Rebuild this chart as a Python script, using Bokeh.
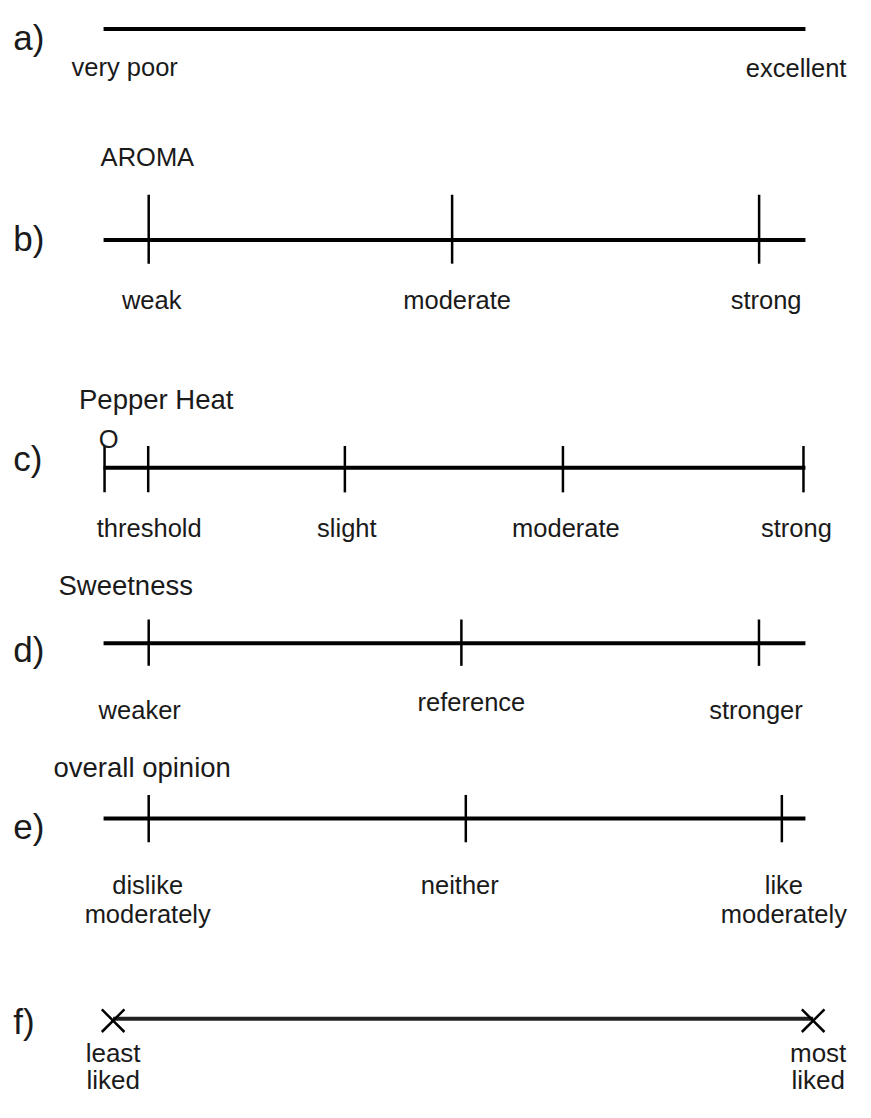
from bokeh.plotting import figure
from bokeh.models import Range1d
from bokeh.core.properties import value
from bokeh.embed import file_html
from bokeh.resources import INLINE

# ---- data: anchor positions on each line scale (0 = left end, 100 = right end)
letters = ["a)", "b)", "c)", "d)", "e)", "f)"]
titles = ["", "AROMA", "Pepper Heat", "Sweetness", "overall opinion", ""]

a_pos = [0, 100]
a_labels = ["very poor", "excellent"]

b_pos = [6.43, 49.66, 93.40]
b_labels = ["weak", "moderate", "strong"]

c_pos = [0.14, 6.36, 34.38, 65.45, 99.72]
c_labels = ["", "threshold", "slight", "moderate", "strong"]
c_origin = "O"

d_pos = [6.43, 50.98, 93.38]
d_labels = ["weaker", "reference", "stronger"]

e_pos = [6.43, 51.61, 96.64]
e_labels = ["dislike\nmoderately", "neither", "like\nmoderately"]

f_pos = [1.36, 101.1]
f_labels = ["least\nliked", "most\nliked"]

# ---- layout (y in reference pixels, top down)
FONT = value("Liberation Sans")
LAB = "25.5px"
TIT = "27.5px"
LET = "35px"
row_y = [29, 243, 474, 652, 830, 1033]
letter_base = [38, 241, 465, 658, 838, 1036]
title_x = [0, -0.42, -3.5, -6.43, -7.13, 0]
title_y = [0, 159, 405, 594, 778, 0]
title_size = ["", "25.5px", TIT, TIT, TIT, ""]

p = figure(width=855, height=1102, output_backend="svg", toolbar_location=None,
           x_range=Range1d(-14.685, 107.133), y_range=Range1d(1118, 0),
           min_border=0, x_axis_location=None, y_axis_location=None)
p.grid.visible = False
p.outline_line_color = None
p.background_fill_color = "white"

def txt(x, y, t, size=LAB, align="left", xo=0):
    p.text(x=[x], y=[y], text=[t], text_font=FONT, text_font_size=size,
           text_align=align, text_baseline="alphabetic", text_color="#1a1a1a", x_offset=xo)

# letters and titles
for i, L in enumerate(letters):
    txt(-12.87, letter_base[i], L, size=LET)
    if titles[i]:
        txt(title_x[i], title_y[i], titles[i], size=title_size[i])

# main lines
for i in range(5):
    p.segment(x0=[0], y0=[row_y[i]], x1=[100], y1=[row_y[i]], line_width=4, line_color="black")
p.segment(x0=[f_pos[0]], y0=[row_y[5]], x1=[f_pos[1]], y1=[row_y[5]], line_width=4, line_color="#222222")

# a) end labels
txt(a_pos[0], 67, a_labels[0], xo=-32)
txt(a_pos[1], 68, a_labels[1], align="right", xo=41)

def ticks(pos, top, bottom):
    p.segment(x0=pos, y0=[top] * len(pos), x1=pos, y1=[bottom] * len(pos),
              line_width=2.5, line_color="black")

# b)
ticks(b_pos, 197, 267)
for x, t, xo in zip(b_pos, b_labels, [3, 5, 7]):
    txt(x, 304, t, align="center", xo=xo)

# c)
ticks(c_pos, 452, 499)
txt(c_pos[0], 445, c_origin, align="center", xo=4)
for x, t, xo in zip(c_pos, c_labels, [0, 1, 2, 3, -7]):
    if t:
        txt(x, 535, t, align="center", xo=xo)

# d)
ticks(d_pos, 628, 675)
for x, t, yb, xo in zip(d_pos, d_labels, [720, 712, 720], [-9, 10, -3]):
    txt(x, yb, t, align="center", xo=xo)

# e)
ticks(e_pos, 806, 854)
for x, t, xo in zip(e_pos, e_labels, [-1, -6, 2]):
    for k, line in enumerate(t.split("\n")):
        txt(x, 897 + 30 * k, line, align="center", xo=xo)

# f)
p.scatter(x=f_pos, y=[row_y[5] + 2] * 2, marker="x", size=32, line_width=2.5, line_color="black")
for x, t, xo in zip(f_pos, f_labels, [0, 5]):
    for k, line in enumerate(t.split("\n")):
        txt(x, 1068 + 27 * k, line, size="26px", align="center", xo=xo)

open("out.html", "w").write(file_html(p, INLINE))
